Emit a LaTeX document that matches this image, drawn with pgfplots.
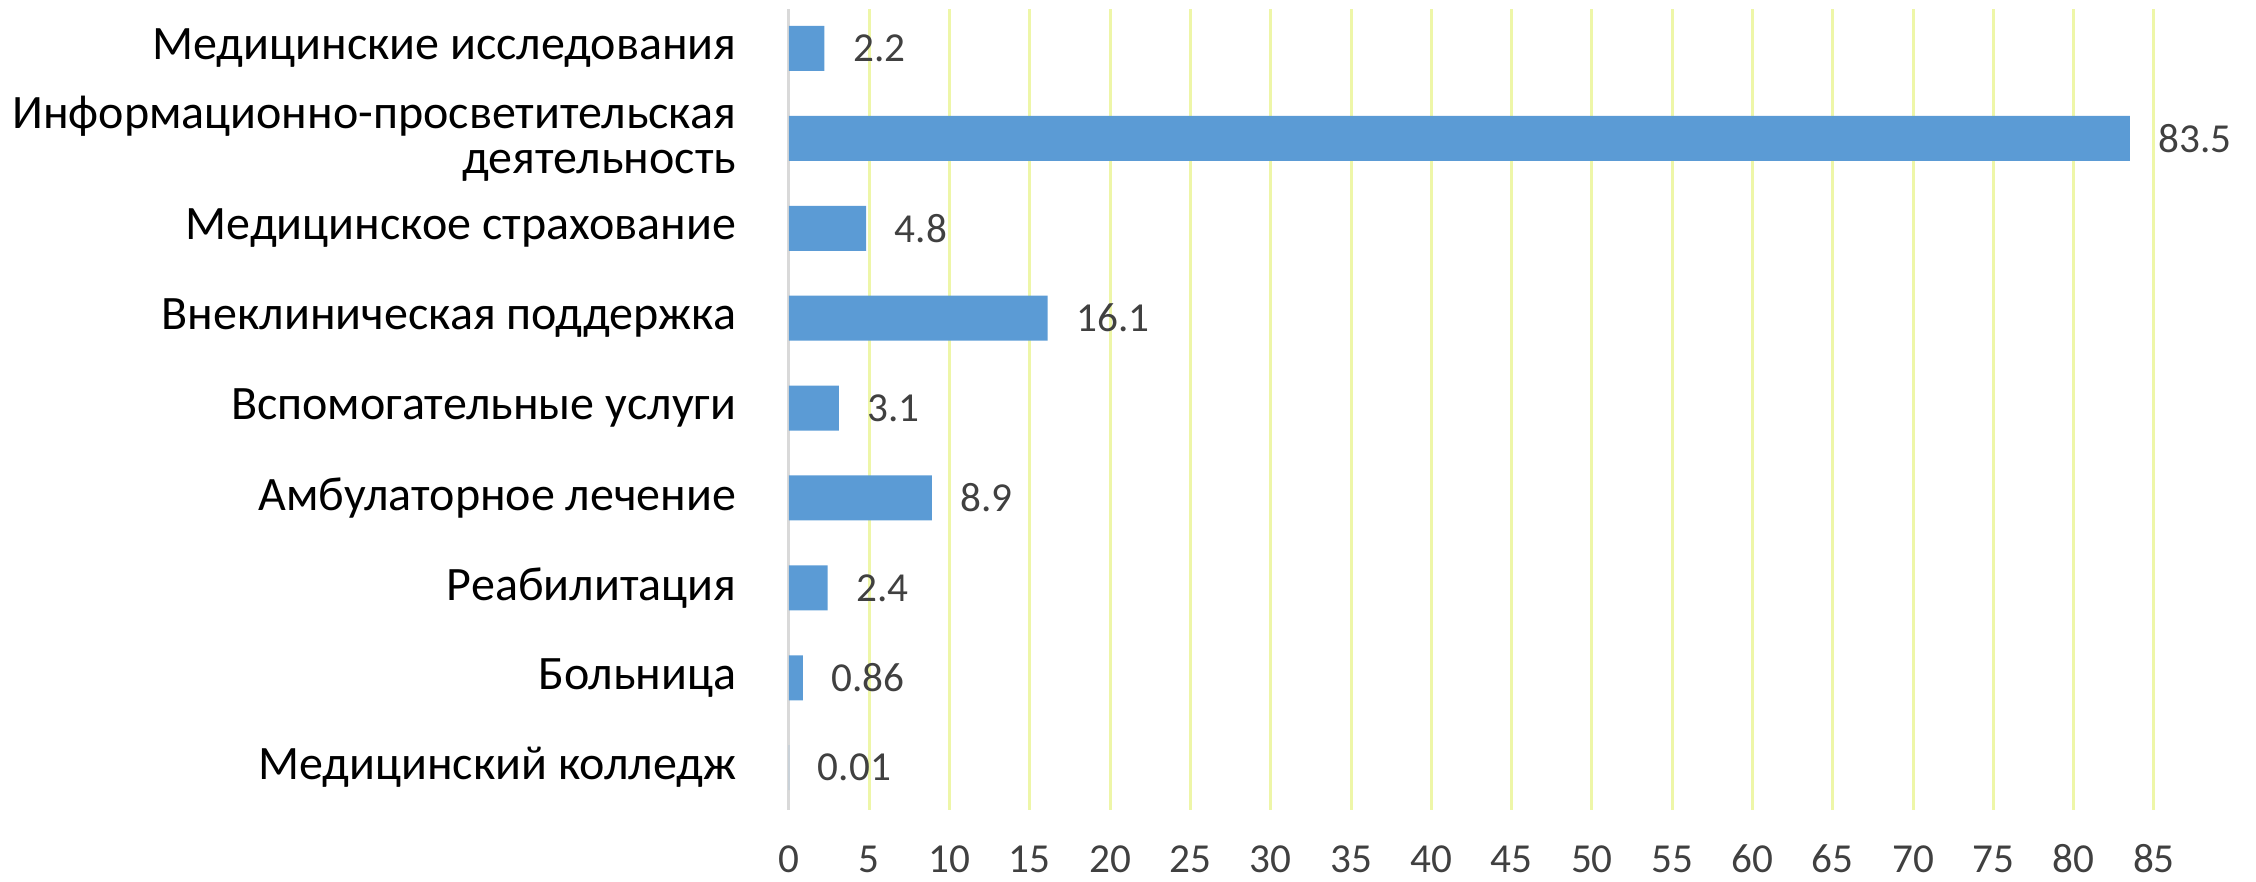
\documentclass[border=0pt]{standalone}
\usepackage{pgfplots}
\pgfplotsset{compat=1.18}
\usepackage{fontspec}
\setmainfont{Carlito}
\definecolor{barblue}{HTML}{5B9BD5}
\definecolor{gridc}{RGB}{238,246,168}
\definecolor{axisc}{RGB}{217,217,217}
\definecolor{numc}{RGB}{64,64,64}
\begin{document}
\begin{tikzpicture}
\begin{axis}[
  at={(0pt,0pt)}, anchor=south west,
  scale only axis,
  width=341.25pt, height=200.25pt,
  xbar, bar width=11.25pt,
  xmin=0, xmax=85,
  ymin=-0.439, ymax=8.471,
  y dir=reverse,
  xtick={0,5,...,85},
  ytick={0,1,2,3,4,5,6,7,8},
  yticklabels={Медицинские исследования,{Информационно-просветительская\\деятельность},Медицинское страхование,Внеклиническая поддержка,Вспомогательные услуги,Амбулаторное лечение,Реабилитация,Больница,Медицинский колледж},
  major tick length=0pt,
  xmajorgrids, ymajorgrids=false,
  grid style={draw=gridc, line width=0.75pt},
  separate axis lines,
  axis x line*=bottom, axis y line*=left,
  x axis line style={draw=none, -},
  y axis line style={draw=axisc, line width=0.75pt, -},
  /pgf/number format/assume math mode=true,
  xticklabel style={font=\fontsize{10.3}{12}\selectfont, text=numc, anchor=base, inner sep=0pt, yshift=-15.5pt},
  yticklabel style={font=\fontsize{12}{11.2}\selectfont, text=black, anchor=east, align=right, inner sep=0pt, xshift=-13pt},
  point meta=explicit symbolic,
  nodes near coords,
  nodes near coords style={font=\fontsize{10.3}{12}\selectfont, text=numc, anchor=west, inner sep=0pt, xshift=7pt},
  clip=false,
]
\addplot[fill=barblue, draw=none] coordinates {
(2.2,0) [2.2]
(83.5,1) [83.5]
(4.8,2) [4.8]
(16.1,3) [16.1]
(3.1,4) [3.1]
(8.9,5) [8.9]
(2.4,6) [2.4]
(0.86,7) [0.86]
(0.01,8) [0.01]
};
\end{axis}
\pgfresetboundingbox
\useasboundingbox (-197.25pt,-17.75pt) rectangle (366.75pt,202.5pt);
\end{tikzpicture}
\end{document}
